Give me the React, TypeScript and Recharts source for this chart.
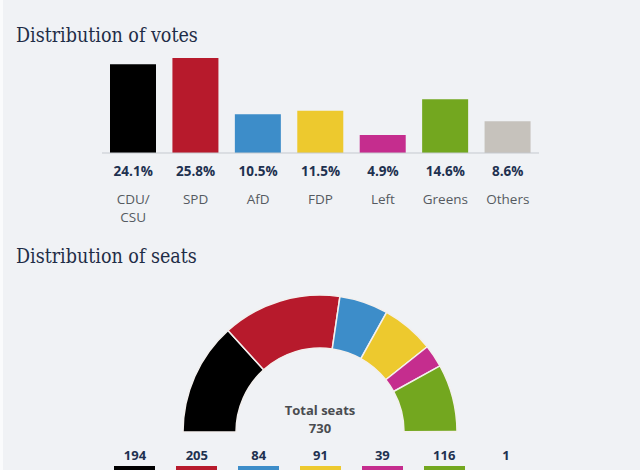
import React from 'react';
import { BarChart, Bar, XAxis, YAxis, Cell, PieChart, Pie } from 'recharts';

const parties = ['CDU/ CSU', 'SPD', 'AfD', 'FDP', 'Left', 'Greens', 'Others'];
const votePct = [24.1, 25.8, 10.5, 11.5, 4.9, 14.6, 8.6];
const seats = [194, 205, 84, 91, 39, 116, 1];
const colors = ['#000000', '#b71a2c', '#3d8dc9', '#edc92e', '#c52d8e', '#73a71f', '#c6c2bc'];
const totalSeats = 730;

const voteData = parties.map((p, i) => ({ name: p, pct: votePct[i] }));
const seatData = parties.map((p, i) => ({ name: p, seats: seats[i] }));

const BG = '#f0f2f5';
const NAVY = '#1e3150';
const FONT = '"Open Sans", sans-serif';

const PartyTick = (props: any) => {
  const { x, y, payload, index } = props;
  const lines = String(payload.value).split(' ');
  return (
    <g>
      <text x={x} y={y + 15} textAnchor="middle" fontFamily={FONT} fontSize={13.5} fontWeight={700} fill={NAVY}>
        {votePct[index].toFixed(1)}%
      </text>
      {lines.map((l, k) => (
        <text key={k} x={x} y={y + 43 + k * 18} textAnchor="middle" fontFamily={FONT} fontSize={13.5} fill="#555a61">
          {l}
        </text>
      ))}
    </g>
  );
};

const titleStyle: React.CSSProperties = {
  position: 'absolute',
  left: 13,
  fontFamily: '"DejaVu Serif", serif',
  fontStretch: 'condensed',
  fontSize: 19.5,
  color: '#1f2d47',
  margin: 0,
  lineHeight: '24px',
  whiteSpace: 'nowrap',
};

export default function App() {
  return (
    <div style={{ position: 'absolute', left: 0, top: 0, width: 640, height: 470, background: BG, overflow: 'hidden', borderLeft: '3px solid #fafbfc', boxSizing: 'border-box' }}>
      <div style={{ ...titleStyle, top: 24 }}>Distribution of votes</div>
      <div style={{ position: 'absolute', left: -2, top: 0 }}>
        <BarChart width={640} height={240} data={voteData} margin={{ top: 58, right: 102, left: 101, bottom: 27 }} barCategoryGap={8}>
          <YAxis hide domain={[0, 25.8]} />
          <XAxis dataKey="name" height={60} tickLine={false} axisLine={{ stroke: '#c5c9cf' }} interval={0} tick={<PartyTick />} />
          <Bar dataKey="pct" isAnimationActive={false}>
            {voteData.map((d, i) => (
              <Cell key={i} fill={colors[i]} />
            ))}
          </Bar>
        </BarChart>
      </div>
      <div style={{ ...titleStyle, top: 245 }}>Distribution of seats</div>
      <div style={{ position: 'absolute', left: -3, top: 240 }}>
        <PieChart width={640} height={230} margin={{ top: 0, right: 0, left: 0, bottom: 0 }}>
          <Pie
            data={seatData}
            dataKey="seats"
            nameKey="name"
            cx={320}
            cy={192}
            startAngle={180}
            endAngle={0}
            innerRadius={84}
            outerRadius={137}
            stroke="#f3f0ee"
            strokeWidth={1.5}
            isAnimationActive={false}
          >
            {seatData.map((d, i) => (
              <Cell key={i} fill={colors[i]} />
            ))}
          </Pie>
          <text x={320} y={175} textAnchor="middle" fontFamily={FONT} fontSize={13} fontWeight={700} fill="#4a4c50">Total seats</text>
          <text x={320} y={193} textAnchor="middle" fontFamily={FONT} fontSize={13} fontWeight={700} fill="#4a4c50">{totalSeats}</text>
        </PieChart>
      </div>
      <div style={{ position: 'absolute', left: 101, top: 446, width: 433, display: 'flex' }}>
        {seats.map((s, i) => (
          <div key={i} style={{ flex: 1, textAlign: 'center', fontFamily: FONT }}>
            <div style={{ fontSize: 13, fontWeight: 700, color: NAVY, lineHeight: '18px' }}>{s}</div>
            <div style={{ width: 41, height: 10, background: i === 6 ? 'transparent' : colors[i], margin: '2px auto 0' }} />
          </div>
        ))}
      </div>
    </div>
  );
}
